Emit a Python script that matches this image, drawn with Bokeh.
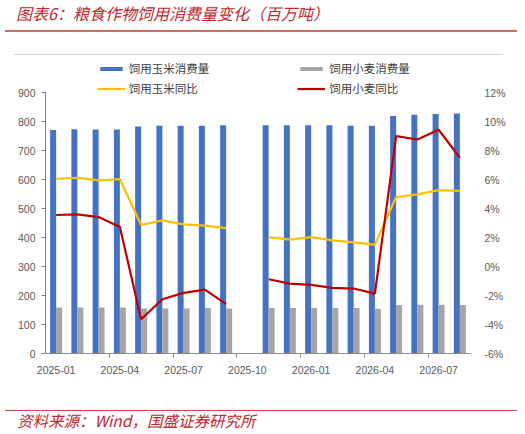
from bokeh.plotting import figure
from bokeh.layouts import column
from bokeh.models import (Range1d, LinearAxis, FixedTicker, PrintfTickFormatter,
                          Legend, LegendItem, ColumnDataSource, Div)
from bokeh.transform import dodge
from bokeh.embed import file_html
from bokeh.resources import INLINE

# ---------------- data ----------------
months = ["2025-01", "2025-02", "2025-03", "2025-04", "2025-05", "2025-06", "2025-07",
          "2025-08", "2025-09", "2025-10", "2025-11", "2025-12", "2026-01", "2026-02",
          "2026-03", "2026-04", "2026-05", "2026-06", "2026-07", "2026-08"]
tick_months = ["2025-01", "2025-04", "2025-07", "2025-10", "2026-01", "2026-04", "2026-07"]
nan = float("nan")
corn_consumption = [771, 773, 772, 772, 783, 785, 785, 785, 787, nan,
                    787, 787, 787, 787, 785, 785, 819, 823, 826, 828]
wheat_consumption = [159, 159, 159, 159, 155, 155, 155, 157, 155, nan,
                     157, 157, 157, 157, 157, 154, 167, 168, 168, 167]
corn_yoy = [6.05, 6.12, 5.94, 6.03, 2.86, 3.18, 2.91, 2.82, 2.65, nan,
            2.03, 1.85, 2.03, 1.80, 1.67, 1.51, 4.79, 4.97, 5.27, 5.22]
wheat_yoy = [3.55, 3.60, 3.41, 2.72, -3.64, -2.26, -1.82, -1.59, -2.60, nan,
             -0.88, -1.18, -1.27, -1.48, -1.52, -1.87, 8.99, 8.76, 9.43, 7.50]
series_names = ["饲用玉米消费量", "饲用小麦消费量", "饲用玉米同比", "饲用小麦同比"]
left_ticks = [0, 100, 200, 300, 400, 500, 600, 700, 800, 900]
right_ticks = [-6, -4, -2, 0, 2, 4, 6, 8, 10, 12]

title_text = "图表6：粮食作物饲用消费量变化（百万吨）"
source_text = "资料来源：Wind，国盛证券研究所"

CJK = "Noto Sans CJK SC"
TITLE_RED = "#C0262D"

# ---------------- header ----------------
header = Div(width=525, height=56, margin=0, text=f"""
<div style="position:relative;width:525px;height:56px;">
  <div style="position:absolute;left:16px;top:3px;font-family:'{CJK}';font-style:italic;
       font-size:16px;line-height:20px;color:{TITLE_RED};white-space:nowrap;">{title_text}</div>
  <div style="position:absolute;left:5px;top:30.3px;width:512px;height:1.7px;background:#D36868;"></div>
  <div style="position:absolute;left:14px;top:53.5px;width:489px;height:1px;background:#D4D4D4;"></div>
</div>""")

# ---------------- chart ----------------
# frame: page y 56 (top) .. 353 (bottom); value 900 / 12% sit 36 px below the frame top
W, H = 525, 344
FRAME_H = 297
TOP_PAD = 36
plot_px = FRAME_H - TOP_PAD
y_top = left_ticks[-1] + TOP_PAD * (left_ticks[-1] - left_ticks[0]) / plot_px
r_top = right_ticks[-1] + TOP_PAD * (right_ticks[-1] - right_ticks[0]) / plot_px

x = [i + 0.5 for i in range(len(months))]
src = ColumnDataSource(dict(x=x, corn=corn_consumption, wheat=wheat_consumption,
                            cy=corn_yoy, wy=wheat_yoy))

p = figure(width=W, height=H, x_range=Range1d(0, len(months)),
           y_range=Range1d(left_ticks[0], y_top),
           output_backend="svg", toolbar_location=None, margin=0,
           min_border_left=45, min_border_right=55, min_border_top=0, min_border_bottom=H - FRAME_H)
p.outline_line_color = None
p.xgrid.visible = False
p.ygrid.visible = False
p.extra_y_ranges = {"pct": Range1d(right_ticks[0], r_top)}

BLUE, GRAY, YELLOW, RED = "#4472C4", "#A5A5A5", "#FFC000", "#C00000"
bw = 0.282
r_corn = p.vbar(x=dodge("x", -bw / 2), top="corn", width=bw, source=src,
                fill_color=BLUE, line_color=None)
r_wheat = p.vbar(x=dodge("x", bw / 2), top="wheat", width=bw, source=src,
                 fill_color=GRAY, line_color=None)
l_corn = p.line("x", "cy", source=src, y_range_name="pct", line_color=YELLOW, line_width=2.2)
l_wheat = p.line("x", "wy", source=src, y_range_name="pct", line_color=RED, line_width=2.2)

TICK_FONT = "Liberation Sans"
LABEL_COLOR = "#595959"

xa = p.xaxis[0]
xa.ticker = FixedTicker(ticks=[months.index(m) + 0.5 for m in tick_months],
                        minor_ticks=[3, 6, 9, 12, 15, 18])
xa.major_label_overrides = {months.index(m) + 0.5: m for m in tick_months}
xa.major_tick_out = 0
xa.major_tick_in = 0
xa.minor_tick_out = 4
xa.minor_tick_in = 0
xa.minor_tick_line_color = "#8c8c8c"
xa.axis_line_color = "#8c8c8c"
xa.major_label_standoff = 8
xa.major_label_text_font = TICK_FONT
xa.major_label_text_font_size = "10.5px"
xa.major_label_text_color = LABEL_COLOR

ya = p.yaxis[0]
ya.ticker = FixedTicker(ticks=left_ticks)
ya.bounds = (left_ticks[0], left_ticks[-1])
ya.major_tick_out = 4
ya.major_tick_in = 0
ya.minor_tick_line_color = None
ya.axis_line_color = "#7f7f7f"
ya.major_tick_line_color = "#7f7f7f"
ya.major_label_standoff = 6
ya.major_label_text_font = TICK_FONT
ya.major_label_text_font_size = "10.5px"
ya.major_label_text_color = LABEL_COLOR

ra = LinearAxis(y_range_name="pct", ticker=FixedTicker(ticks=right_ticks),
                formatter=PrintfTickFormatter(format="%d%%"),
                bounds=(right_ticks[0], right_ticks[-1]))
ra.axis_line_color = None
ra.major_tick_line_color = None
ra.minor_tick_line_color = None
ra.major_tick_out = 0
ra.major_tick_in = 0
ra.major_label_standoff = 14
ra.major_label_text_font = TICK_FONT
ra.major_label_text_font_size = "10.5px"
ra.major_label_text_color = LABEL_COLOR
p.add_layout(ra, "right")

# legends: two columns, each a vertical legend inside the top strip of the frame
FRAME_BOTTOM_PAGE = 56 + FRAME_H


def make_legend(items, page_x):
    return Legend(items=items, location=(page_x - 45, FRAME_BOTTOM_PAGE - 96.2),
                  orientation="vertical", padding=0, margin=0,
                  border_line_alpha=0, background_fill_alpha=0,
                  glyph_width=28, glyph_height=5, label_standoff=4, label_height=14,
                  spacing=4, label_text_font=CJK, label_text_font_size="11.5px",
                  label_text_color="#404040")


p.add_layout(make_legend([LegendItem(label=series_names[0], renderers=[r_corn]),
                          LegendItem(label=series_names[2], renderers=[l_corn])], 96.7), "center")
p.add_layout(make_legend([LegendItem(label=series_names[1], renderers=[r_wheat]),
                          LegendItem(label=series_names[3], renderers=[l_wheat])], 297.3), "center")

# ---------------- footer ----------------
footer = Div(width=525, height=32, margin=0, text=f"""
<div style="position:relative;width:525px;height:32px;">
  <div style="position:absolute;left:5px;top:9.5px;width:512px;height:1.2px;background:#D04545;"></div>
  <div style="position:absolute;left:17px;top:11px;font-family:'{CJK}';font-style:italic;
       font-size:15.5px;line-height:18px;color:{TITLE_RED};white-space:nowrap;">{source_text}</div>
</div>""")

layout = column(header, p, footer, spacing=0)
open("out.html", "w").write(file_html(layout, INLINE))
